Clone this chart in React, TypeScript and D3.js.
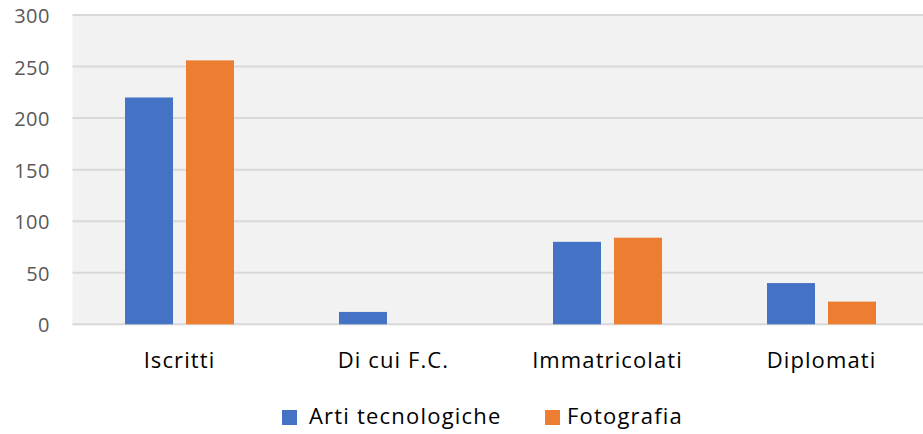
import React from "react";
import * as d3 from "d3";

const categories = ["Iscritti", "Di cui F.C.", "Immatricolati", "Diplomati"];
const seriesNames = ["Arti tecnologiche", "Fotografia"];
const artiTecnologiche = [220, 12, 80, 40];
const fotografia = [256, 0, 84, 22];
const yTicks = [0, 50, 100, 150, 200, 250, 300];
const colors = ["#4472c4", "#ed7d31"];

const W = 923;
const H = 434;
const FONT = "'Open Sans', 'Noto Sans', sans-serif";

export default function App() {
  const x0 = d3.scaleBand<string>().domain(categories).range([72.5, 928.5]).padding(0);
  const y = d3.scaleLinear().domain([0, 300]).range([324.3, 15]);
  const barW = 48;
  const off = 30.5;
  const series = [artiTecnologiche, fotografia];

  return (
    <svg
      width={W}
      height={H}
      style={{ position: "absolute", left: 0, top: 0, background: "#fff" }}
      fontFamily={FONT}
    >
      <rect x={72.5} y={y(300) - 1} width={W - 72.5} height={y(0) - y(300) + 2} fill="#f2f2f2" />
      {yTicks.map((t) => (
        <g key={t}>
          <line x1={72.5} x2={W} y1={y(t)} y2={y(t)} stroke="#d9d9d9" strokeWidth={2} />
          <text x={50} y={y(t) + 8} textAnchor="end" fontSize={20} fill="#595959" letterSpacing={0.5}>
            {t}
          </text>
        </g>
      ))}
      {categories.map((c, i) => {
        const cx = (x0(c) as number) + x0.bandwidth() / 2;
        return (
          <g key={c}>
            {series.map((s, k) => {
              const v = s[i];
              if (!v) return null;
              const bx = cx + (k === 0 ? -off : off) - barW / 2;
              return (
                <rect
                  key={k}
                  x={bx}
                  y={y(v)}
                  width={barW}
                  height={y(0) - y(v)}
                  fill={colors[k]}
                />
              );
            })}
            <text x={cx} y={368} textAnchor="middle" fontSize={22} fill="#000" letterSpacing={1.1}>
              {c}
            </text>
          </g>
        );
      })}
      <g>
        <rect x={282} y={410} width={15} height={15} fill={colors[0]} />
        <text x={309} y={424} fontSize={22} fill="#000" letterSpacing={1.2}>
          {seriesNames[0]}
        </text>
        <rect x={545} y={410} width={15} height={15} fill={colors[1]} />
        <text x={567} y={424} fontSize={22} fill="#000" letterSpacing={1.2}>
          {seriesNames[1]}
        </text>
      </g>
    </svg>
  );
}
